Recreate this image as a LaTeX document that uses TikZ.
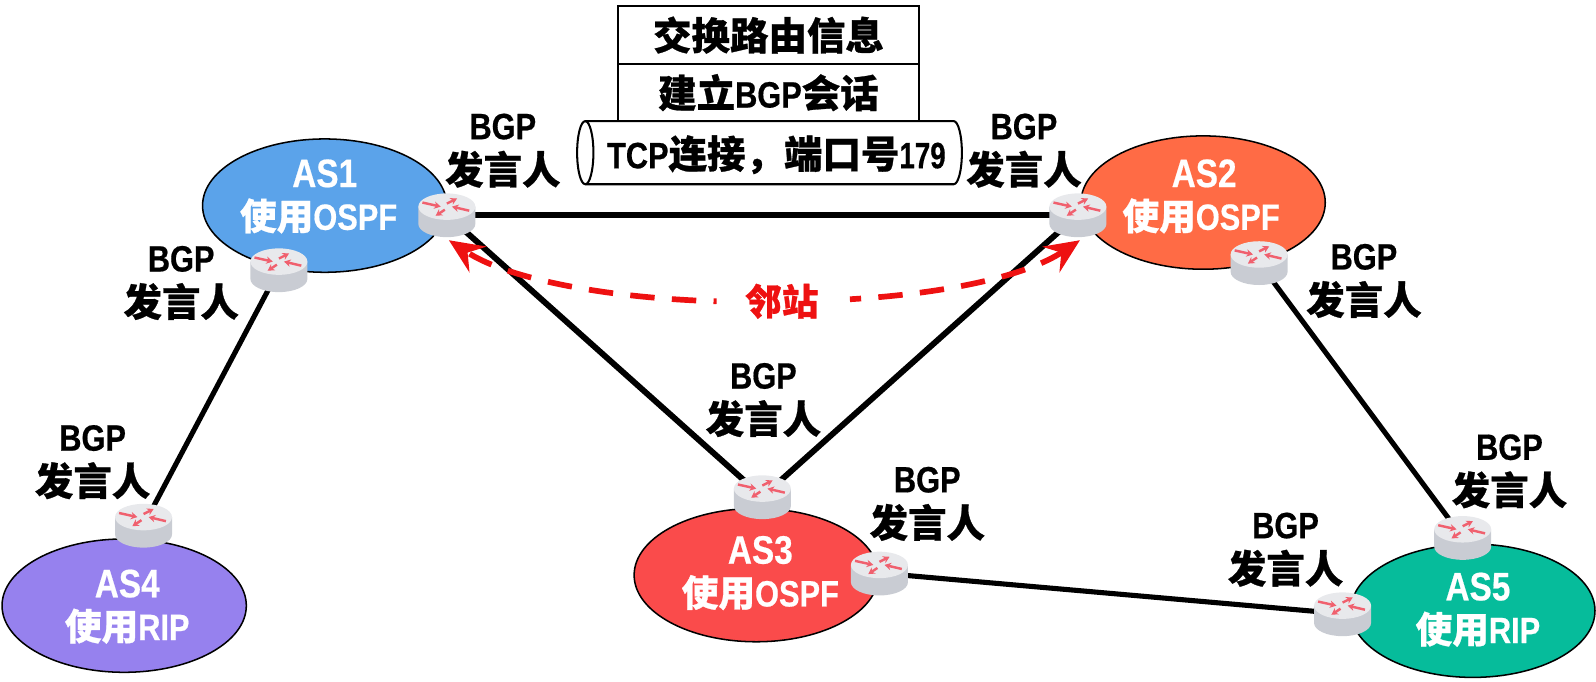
\documentclass[tikz,border=0pt]{standalone}
\usepackage{fontspec}
\setmainfont{Liberation Sans}[FakeStretch=0.84,BoldFeatures={FakeBold=0.5}]
\newfontfamily\zh{Noto Sans CJK SC}[Scale=1.05,BoldFeatures={FakeBold=0.7}]
\newfontfamily\zhs{Noto Sans CJK SC}[BoldFeatures={FakeBold=0.7}]
\usetikzlibrary{arrows.meta,shapes.geometric}
\definecolor{rtop}{HTML}{E8E9EC}
\definecolor{rside}{HTML}{C9CCD3}
\definecolor{rarrow}{HTML}{F0606E}
\definecolor{nbred}{HTML}{EE1111}
\definecolor{asa}{RGB}{91,163,234}
\definecolor{asb}{RGB}{255,107,69}
\definecolor{asc}{RGB}{250,75,75}
\definecolor{asd}{RGB}{150,129,238}
\definecolor{ase}{RGB}{6,188,155}
\tikzset{
  x=0.5pt,y=-0.5pt,
  asell/.style={draw=black,line width=0.75pt,inner sep=0pt,ellipse,minimum width=120pt,minimum height=65.5pt},
  rnode/.style={inner sep=0pt,minimum width=28pt,minimum height=22pt},
  link/.style={line width=2.5pt,black},
  link2/.style={line width=2.9pt,black},
  speaker/.style={align=center,font=\fontsize{18}{22}\selectfont\bfseries,inner sep=0pt},
  astext/.style={align=center,text=white,font=\fontsize{18}{21}\selectfont\bfseries,inner sep=0pt},
  stack/.style={draw=black,line width=1pt,fill=white,inner sep=0pt,minimum width=148pt,minimum height=28.5pt,font=\fontsize{18}{22}\selectfont\bfseries},
  nb/.style={draw=nbred,line width=2.8pt,dash pattern=on 12pt off 8.5pt,-{Stealth[length=17pt,width=15pt,inset=6pt]}},
}
\newcommand{\Z}[1]{{\zh\bfseries #1}}
\newcommand{\ZS}[1]{{\zhs\bfseries #1}}
\newcommand{\AStitle}[1]{{\fontsize{19.5}{21}\selectfont #1}}
\newcommand{\routerart}[1]{%
  \begin{scope}[shift={(#1.center)}]
    \fill[rside] (-28,-8) -- (-28,9) arc[start angle=180,end angle=360,x radius=14pt,y radius=6.5pt] -- (28,-8) -- cycle;
    \fill[rtop] (0,-8) ellipse[x radius=14pt,y radius=6.5pt];
    \begin{scope}[rarrow,line width=1.2pt,-{Stealth[length=3.2pt,width=3.6pt]}]
      \draw (-24,-12) -- (-6,-8);
      \draw (22,-4) -- (5,-8);
      \draw (0,-11) -- (10,-16);
      \draw (-2,-5) -- (-11,1);
    \end{scope}
  \end{scope}}
\newcommand{\speakerlabel}[3]{\node[speaker] (#1) at (#2,#3) {BGP\\\Z{发言人}};}
\begin{document}
\begin{tikzpicture}
\useasboundingbox (0,0) rectangle (1568,670);
% ellipses
\node[asell,fill=asa] (as1) at (319,202) {};
\node[asell,fill=asb] (as2) at (1182,199) {};
\node[asell,fill=asc] (as3) at (743,565) {};
\node[asell,fill=asd] (as4) at (122,595) {};
\node[asell,fill=ase] (as5) at (1447,600) {};
% routers
\node[rnode] (r1a) at (439,211) {};
\node[rnode] (r1b) at (274,265) {};
\node[rnode] (r2a) at (1059,211) {};
\node[rnode] (r2b) at (1237,258) {};
\node[rnode] (r3a) at (749,488) {};
\node[rnode] (r3b) at (864,563) {};
\node[rnode] (r4) at (141,516) {};
\node[rnode] (r5a) at (1437,528) {};
\node[rnode] (r5b) at (1319,603) {};
% links
\draw[link2] (r1a.center) -- (r2a.center);
\draw[link2] (r1a.center) -- (r3a.center);
\draw[link2] (r2a.center) -- (r3a.center);
\draw[link] (r1b.center) -- (r4.center);
\draw[link] (r2b.center) -- (r5a.center);
\draw[link] (r3b.center) -- (r5b.center);
% router drawings
\routerart{r1a}\routerart{r1b}\routerart{r2a}\routerart{r2b}\routerart{r3a}\routerart{r3b}\routerart{r4}\routerart{r5a}\routerart{r5b}
% protocol stack
\node[stack] (s1) at (755,34.5) {\Z{交换路由信息}};
\node[stack] (s2) at (755,91) {\Z{建立}BGP\Z{会话}};
\draw[line width=1pt,fill=white] (575,119) -- (937,119) arc[start angle=90,end angle=-90,x radius=4pt,y radius=15.5pt] -- (575,181) arc[start angle=270,end angle=90,x radius=4pt,y radius=15.5pt] -- cycle;
\draw[line width=1pt] (575,119) arc[start angle=90,end angle=-90,x radius=4pt,y radius=15.5pt];
\node[anchor=west,font=\fontsize{18}{22}\selectfont\bfseries,inner sep=0pt] (s3) at (596,152) {TCP\Z{连接，端口号}\scalebox{0.9}[1]{179}};
% neighbour label and arrows
\node[text=nbred,font=\fontsize{18}{22}\selectfont\bfseries,inner sep=0pt] (nbl) at (768,296) {\ZS{邻站}};
\coordinate (nbL) at (441,236);
\coordinate (nbR) at (1061,236);
\coordinate (gapL) at (704,296);
\coordinate (gapR) at (835,294);
\draw[nb,dash phase=10.5pt] (gapL) .. controls (600,293) and (500,275) .. (nbL);
\draw[nb,dash phase=6.5pt] (gapR) .. controls (935,288) and (1010,270) .. (nbR);
% AS labels
\node[astext] (t1) at (313,193) {\AStitle{\hspace{6pt}AS1}\\\ZS{使用}OSPF};
\node[astext] (t2) at (1180,193) {\AStitle{\hspace{3pt}AS2}\\\ZS{使用}OSPF};
\node[astext] (t3) at (747,563) {\AStitle{AS3}\\\ZS{使用}OSPF};
\node[astext] (t4) at (125,596) {\AStitle{AS4}\\\ZS{使用}RIP};
\node[astext] (t5) at (1452,599) {\AStitle{AS5}\\\ZS{使用}RIP};
% speaker labels
\speakerlabel{b1}{494}{148}
\speakerlabel{b2}{1006}{148}
\speakerlabel{b3}{178}{278}
\speakerlabel{b4}{91}{454}
\speakerlabel{b5}{750}{393}
\speakerlabel{b6}{911}{495}
\speakerlabel{b7}{1340}{276}
\speakerlabel{b8}{1483}{463}
\speakerlabel{b9}{1263}{540}
\end{tikzpicture}
\end{document}
